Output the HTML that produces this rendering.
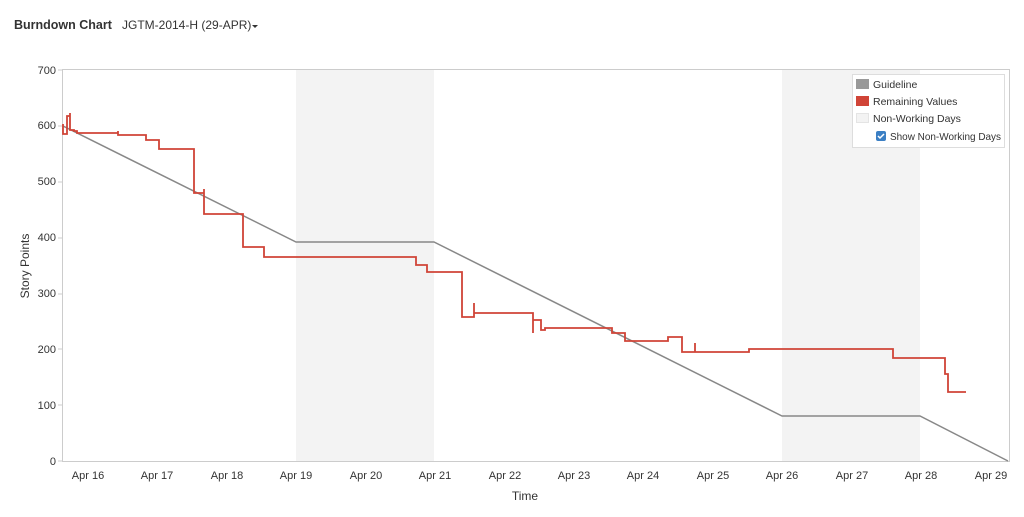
<!DOCTYPE html><html><head><meta charset="utf-8"><style>body{margin:0;background:#fff;font-family:"Liberation Sans",sans-serif}</style></head><body>
<svg width="1024" height="512" xmlns="http://www.w3.org/2000/svg" font-family="Liberation Sans, sans-serif">
<text x="14" y="29" font-size="12.5" font-weight="bold" fill="#333">Burndown Chart</text>
<text x="122" y="29" font-size="12" fill="#333">JGTM-2014-H (29-APR)</text>
<path d="M252,25 l6,0 l-3,3z" fill="#333"/>
<rect x="296" y="70" width="138" height="391" fill="#f3f3f3"/>
<rect x="782" y="70" width="138" height="391" fill="#f3f3f3"/>
<rect x="62.5" y="69.5" width="947" height="392" fill="none" stroke="#ccc"/>
<g font-size="11" fill="#333" text-anchor="end">
<text x="56" y="74">700</text><text x="56" y="129">600</text><text x="56" y="185">500</text><text x="56" y="241">400</text><text x="56" y="297">300</text><text x="56" y="353">200</text><text x="56" y="409">100</text><text x="56" y="465">0</text>
</g>
<g stroke="#ccc"><line x1="58" y1="70" x2="62" y2="70"/><line x1="58" y1="126" x2="62" y2="126"/><line x1="58" y1="182" x2="62" y2="182"/><line x1="58" y1="238" x2="62" y2="238"/><line x1="58" y1="294" x2="62" y2="294"/><line x1="58" y1="349" x2="62" y2="349"/><line x1="58" y1="405" x2="62" y2="405"/><line x1="58" y1="461" x2="62" y2="461"/></g>
<g font-size="11" fill="#333" text-anchor="middle">
<text x="88" y="479">Apr 16</text><text x="157" y="479">Apr 17</text><text x="227" y="479">Apr 18</text><text x="296" y="479">Apr 19</text><text x="366" y="479">Apr 20</text><text x="435" y="479">Apr 21</text><text x="505" y="479">Apr 22</text><text x="574" y="479">Apr 23</text><text x="643" y="479">Apr 24</text><text x="713" y="479">Apr 25</text><text x="782" y="479">Apr 26</text><text x="852" y="479">Apr 27</text><text x="921" y="479">Apr 28</text><text x="991" y="479">Apr 29</text>
</g>
<text x="525" y="500" font-size="12" fill="#333" text-anchor="middle">Time</text>
<text transform="translate(29,266) rotate(-90)" font-size="12" fill="#333" text-anchor="middle">Story Points</text>
<polyline points="63,126 296,242 434,242 782,416 920,416 1008,461" fill="none" stroke="#888" stroke-width="1.5"/>
<path d="M63,124 V134 H67 V116 H70 V113 V130 H74 V131 H77 V133 H118 V131 V135 H146 V140 H159 V149 H194 V193 H204 V189 V214 H243 V247 H264 V257 H416 V265 H427 V272 H462 V317 H474 V303 V313 H533 V333 V320 H541 V330 H545 V328 H612 V333 H625 V341 H668 V337 H682 V352 H695 V343 V352 H749 V349 H893 V358 H945 V374 H948 V392 H966" fill="none" stroke="#d04437" stroke-width="1.8"/>
<rect x="852.5" y="74.5" width="152" height="73" fill="#fff" stroke="#ddd"/>
<rect x="856" y="79" width="13" height="10" fill="#999"/>
<text x="873" y="88" font-size="10.5" fill="#333">Guideline</text>
<rect x="856" y="96" width="13" height="10" fill="#d04437"/>
<text x="873" y="105" font-size="10.5" fill="#333">Remaining Values</text>
<rect x="856.5" y="113.5" width="12" height="9" fill="#f3f3f3" stroke="#e4e4e4"/>
<text x="873" y="122" font-size="10.5" fill="#333">Non-Working Days</text>
<rect x="876" y="131" width="10" height="10" rx="2" fill="#3b7fc4"/>
<path d="M878,136 l2,2 l4,-4" fill="none" stroke="#fff" stroke-width="1.5"/>
<text x="890" y="140" font-size="10.2" fill="#333" textLength="111" lengthAdjust="spacingAndGlyphs">Show Non-Working Days</text>
</svg></body></html>
